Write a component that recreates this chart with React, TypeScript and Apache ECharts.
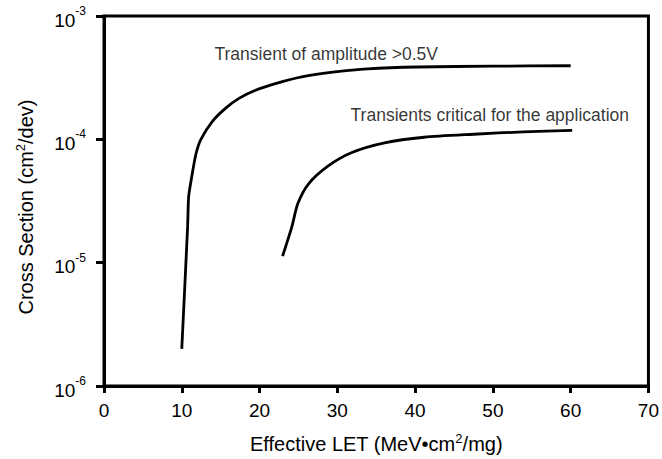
import React, { useEffect, useRef } from "react";
import * as echarts from "echarts";

// Effective LET (MeV·cm²/mg) vs. cross section (cm²/dev)
const amplitudeLET = [10, 10.75, 10.88, 11.19, 11.82, 12.46, 13.94, 15.65, 17.35, 19.48, 22.03, 25.42, 29.68, 33.9, 40.3, 50, 60];
const amplitudeXS = [2.0e-6, 1.95e-5, 3.4e-5, 4.6e-5, 7.6e-5, 1.0e-4, 1.4e-4, 1.79e-4, 2.15e-4, 2.5e-4, 2.83e-4, 3.21e-4, 3.52e-4, 3.73e-4, 3.86e-4, 3.92e-4, 3.95e-4];

const criticalLET = [22.96, 24.15, 24.91, 26.28, 28.83, 31.8, 36.06, 41.16, 47.54, 53.9, 60.2];
const criticalXS = [1.13e-5, 1.95e-5, 3.0e-5, 4.34e-5, 6.08e-5, 7.78e-5, 9.35e-5, 1.04e-4, 1.1e-4, 1.15e-4, 1.18e-4];

const annotationText = ["Transient of amplitude >0.5V", "Transients critical for the application"];
const annotationLET = [14.2, 31.7];
const annotationXS = [4.95e-4, 1.57e-4];

const xTicks = [0, 10, 20, 30, 40, 50, 60, 70];

const FONT = "'Liberation Sans', Arial, Helvetica, sans-serif";

export default function App() {
  const ref = useRef<HTMLDivElement>(null);

  useEffect(() => {
    if (!ref.current) return;
    const chart = echarts.init(ref.current, null, { renderer: "svg" });

    const zip = (xs: number[], ys: number[]) => xs.map((x, i) => [x, ys[i]]);

    const nameRich = {
      t: { fontSize: 20, fontFamily: FONT, color: "#000", lineHeight: 24 },
      s: { fontSize: 13, fontFamily: FONT, color: "#000", verticalAlign: "top", lineHeight: 13 },
    };

    chart.setOption({
      animation: false,
      backgroundColor: "#fff",
      textStyle: { fontFamily: FONT, color: "#000" },
      grid: {
        left: 104,
        right: 9,
        top: 16,
        bottom: 68,
        show: true,
        borderColor: "#000",
        borderWidth: 3,
        backgroundColor: "transparent",
      },
      xAxis: {
        type: "value",
        min: xTicks[0],
        max: xTicks[xTicks.length - 1],
        interval: 10,
        name: "{t|Effective LET (MeV•cm}{s|2}{t|/mg)}",
        nameLocation: "middle",
        nameGap: 46,
        nameTextStyle: { rich: nameRich },
        axisLine: { lineStyle: { color: "#000", width: 3 } },
        axisTick: { inside: false, length: 7, lineStyle: { color: "#000", width: 3 } },
        axisLabel: { fontSize: 19, fontFamily: FONT, color: "#000", margin: 15 },
        splitLine: { show: false },
      },
      yAxis: {
        type: "log",
        logBase: 10,
        min: 1e-6,
        max: 1e-3,
        name: "{t|Cross Section (cm}{s|2}{t|/dev)}",
        nameLocation: "middle",
        nameGap: 66,
        nameTextStyle: { rich: nameRich, padding: [0, 12, 0, 0] },
        axisLine: { lineStyle: { color: "#000", width: 3 } },
        axisTick: { inside: false, length: 8, lineStyle: { color: "#000", width: 3 } },
        minorTick: { show: false },
        axisLabel: {
          margin: 18,
          formatter: (v: number) => `{b|10}{s|${Math.round(Math.log10(v))}}`,
          rich: {
            b: { fontSize: 19, fontFamily: FONT, color: "#000", lineHeight: 22, padding: [8, 0, 0, 0] },
            s: { fontSize: 12, fontFamily: FONT, color: "#000", verticalAlign: "top", lineHeight: 12 },
          },
        },
        splitLine: { show: false },
      },
      series: [
        {
          name: "Transient of amplitude >0.5V",
          type: "line",
          data: zip(amplitudeLET, amplitudeXS),
          showSymbol: false,
          smooth: 0.25,
          lineStyle: { color: "#000", width: 2.8 },
        },
        {
          name: "Transients critical for the application",
          type: "line",
          data: zip(criticalLET, criticalXS),
          showSymbol: false,
          smooth: 0.25,
          lineStyle: { color: "#000", width: 2.8 },
        },
        {
          name: "annotations",
          type: "scatter",
          symbolSize: 0,
          data: annotationText.map((t, i) => ({ value: [annotationLET[i], annotationXS[i]], name: t })),
          label: {
            show: true,
            position: "right",
            distance: 0,
            formatter: (p: any) => p.name,
            fontSize: 17.5,
            fontFamily: FONT,
            color: "#000",
          },
          silent: true,
        },
      ],
    });

    return () => chart.dispose();
  }, []);

  return (
    <div
      ref={ref}
      style={{ position: "fixed", left: 0, top: 0, width: 662, height: 459, background: "#fff" }}
    />
  );
}
